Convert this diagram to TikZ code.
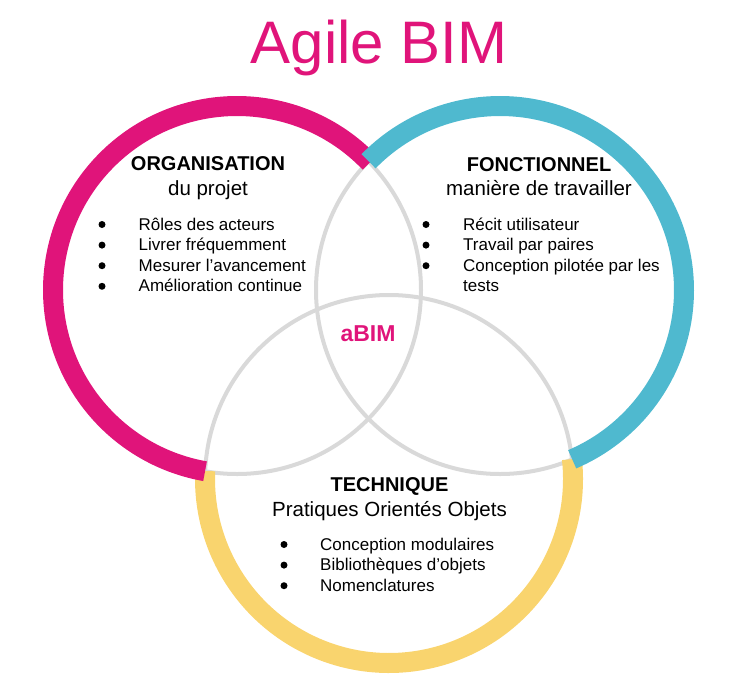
\documentclass[tikz,border=0pt]{standalone}
\usepackage{fontspec}
\setmainfont{Liberation Sans}
\definecolor{abimpink}{HTML}{E0147A}
\definecolor{abimblue}{HTML}{4FB9CF}
\definecolor{abimyellow}{HTML}{F9D46E}
\definecolor{ringgray}{HTML}{D9D9D9}
\begin{document}
\begin{tikzpicture}[x=1pt,y=-1pt,
  ring/.style={draw=ringgray, line width=4pt},
  band/.style={line width=20pt},
  head/.style={anchor=base, font=\fontsize{20}{24}\selectfont\bfseries, inner sep=0pt},
  sub/.style={anchor=base, font=\fontsize{20.5}{24}\selectfont, inner sep=0pt},
  item/.style={anchor=base west, font=\fontsize{17}{20}\selectfont, inner sep=0pt},
  dot/.style={circle, fill=black, inner sep=0pt, minimum size=7pt}]
\useasboundingbox (0,0) rectangle (736,686);

% circle centres
\coordinate (L) at (237,290);
\coordinate (R) at (500,290);
\coordinate (B) at (389,479);

% thin grey circles
\draw[ring] (L) circle[radius=184];
\draw[ring] (R) circle[radius=184];
\draw[ring] (B) circle[radius=184];

% thick coloured outer arcs
\draw[band, abimyellow] (B) ++(-6.2:184) arc[start angle=-6.2, end angle=182.5, radius=184];
\draw[band, abimpink] (L) ++(-43.8:184) arc[start angle=-43.8, end angle=-260, radius=184];
\draw[band, abimblue] (R) ++(-135.6:184) arc[start angle=-135.6, end angle=66.9, radius=184];

% title
\node[font=\fontsize{60}{72}\selectfont, text=abimpink, anchor=base, inner sep=0pt] (title) at (379,63) {Agile BIM};

% centre label
\node[font=\fontsize{23}{28}\selectfont\bfseries, text=abimpink, anchor=base, inner sep=0pt] (abim) at (368,341) {aBIM};

% organisation
\node[head] (orgh) at (208,170.7) {ORGANISATION};
\node[sub] (orgs) at (208,195) {du projet};
\node[dot] (od1) at (102,224.5) {};
\node[dot] (od2) at (102,245.1) {};
\node[dot] (od3) at (102,265.7) {};
\node[dot] (od4) at (102,286.3) {};
\node[item] (o1) at (138.5,230) {Rôles des acteurs};
\node[item] (o2) at (138.5,250.6) {Livrer fréquemment};
\node[item] (o3) at (138.5,271.2) {Mesurer l’avancement};
\node[item] (o4) at (138.5,291.8) {Amélioration continue};

% fonctionnel
\node[head] (fonh) at (539,171.7) {FONCTIONNEL};
\node[sub] (fons) at (539,195.7) {manière de travailler};
\node[dot] (fd1) at (426,224.5) {};
\node[dot] (fd2) at (426,245.1) {};
\node[dot] (fd3) at (426,265.7) {};
\node[item] (f1) at (463,230) {Récit utilisateur};
\node[item] (f2) at (463,250.6) {Travail par paires};
\node[item] (f3) at (463,271.2) {Conception pilotée par les};
\node[item] (f4) at (463,291.8) {tests};

% technique
\node[head] (tech) at (389.5,491.7) {TECHNIQUE};
\node[sub] (tecs) at (389.5,516) {Pratiques Orientés Objets};
\node[dot] (td1) at (284,544.5) {};
\node[dot] (td2) at (284,565.1) {};
\node[dot] (td3) at (284,585.7) {};
\node[item] (t1) at (320,550) {Conception modulaires};
\node[item] (t2) at (320,570.6) {Bibliothèques d’objets};
\node[item] (t3) at (320,591.2) {Nomenclatures};
\end{tikzpicture}
\end{document}
